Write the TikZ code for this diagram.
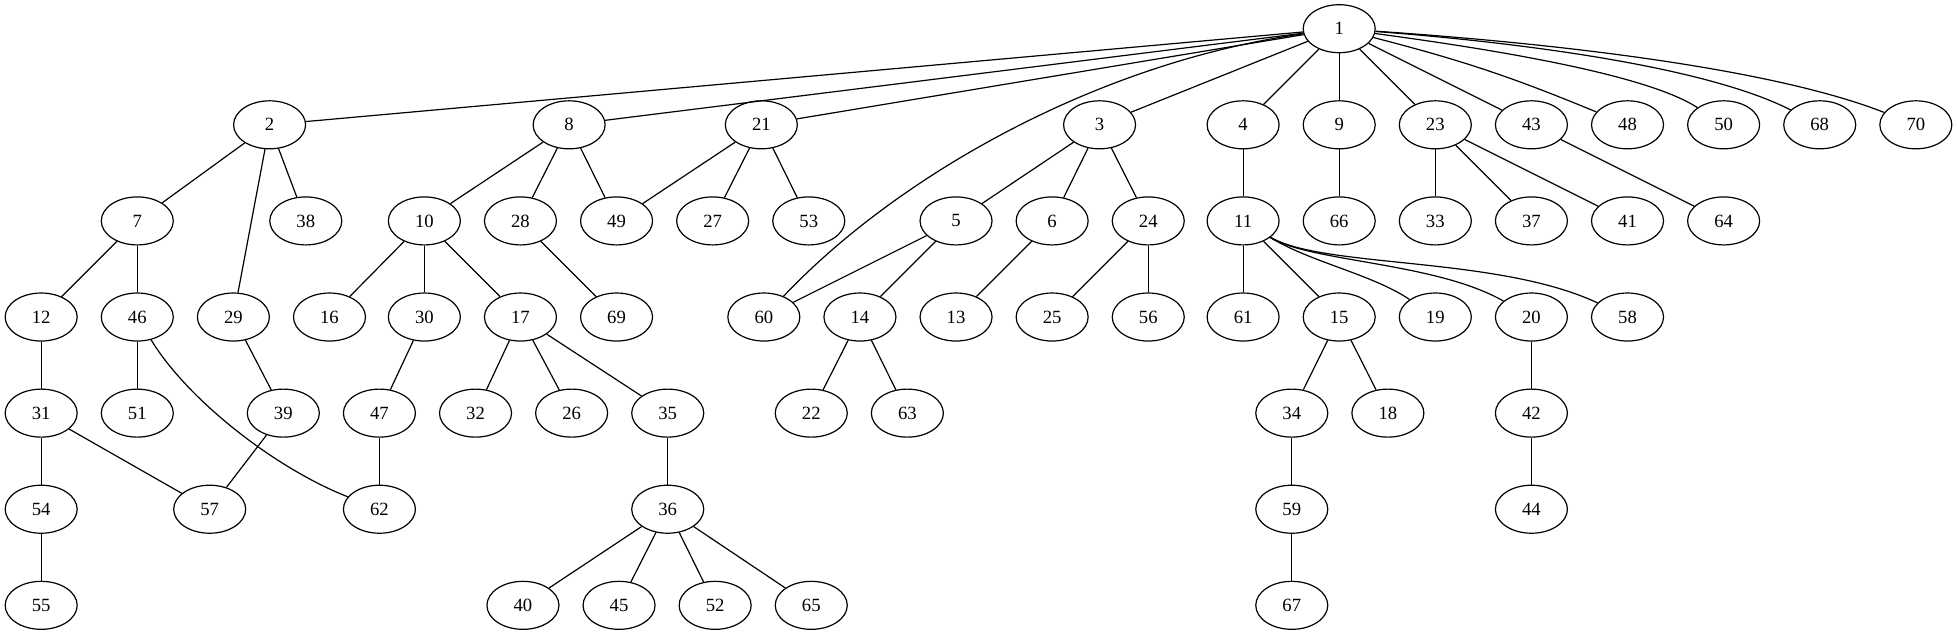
\documentclass[tikz,border=0pt]{standalone}
\usepackage{fontspec}
\setmainfont{Liberation Serif}
\usetikzlibrary{shapes.geometric}
\tikzset{
  gv/.style={ellipse, draw, line width=0.9pt, minimum width=54pt, minimum height=36pt, inner sep=0pt, font=\fontsize{14}{16}\selectfont},
  gvedge/.style={line width=0.9pt}
}
\begin{document}
\begin{tikzpicture}[x=0.936pt,y=-0.936pt]
\useasboundingbox (0,0) rectangle (1568,509);
% row 0
\node[gv] (n1) at (1073,23) {1};
% row 1
\foreach \n/\x in {2/216,8/456,21/610,3/881,4/996,9/1073,23/1150,43/1227,48/1304,50/1381,68/1458,70/1535}
  \node[gv] (n\n) at (\x,100) {\n};
% row 2
\foreach \n/\x in {7/110,38/245,10/340,28/417,49/494,27/571,53/648,5/766,6/843,24/920,11/996,66/1073,33/1150,37/1227,41/1304,64/1381}
  \node[gv] (n\n) at (\x,177) {\n};
% row 3
\foreach \n/\x in {12/33,46/110,29/187,16/264,30/340,17/417,69/494,60/612,14/689,13/766,25/843,56/920,61/996,15/1073,19/1150,20/1227,58/1304}
  \node[gv] (n\n) at (\x,254) {\n};
% row 4
\foreach \n/\x in {31/33,51/110,39/227,47/304,32/381,26/458,35/535,22/650,63/727,34/1035,18/1112,42/1227}
  \node[gv] (n\n) at (\x,331) {\n};
% row 5
\foreach \n/\x in {54/33,57/168,62/304,36/535,59/1035,44/1227}
  \node[gv] (n\n) at (\x,408) {\n};
% row 6
\foreach \n/\x in {55/33,40/419,45/496,52/573,65/650,67/1035}
  \node[gv] (n\n) at (\x,485) {\n};
% straight edges
\foreach \a/\b in {1/2,1/8,1/21,1/3,1/4,1/9,1/23,1/43,
  2/7,2/29,2/38,8/10,8/28,8/49,21/49,21/27,21/53,3/5,3/6,3/24,4/11,9/66,
  23/33,23/37,23/41,43/64,7/12,7/46,10/16,10/30,10/17,28/69,5/60,5/14,6/13,
  24/25,24/56,11/61,11/15,12/31,46/51,29/39,30/47,17/32,17/26,17/35,
  14/22,14/63,15/34,15/18,20/42,31/54,31/57,39/57,47/62,35/36,34/59,42/44,
  54/55,36/40,36/45,36/52,36/65,59/67}
  \draw[gvedge] (n\a) -- (n\b);
% curved edges
\draw[gvedge] (n1) .. controls (880,50) and (720,140) .. (n60);
\draw[gvedge] (n1) to[bend left=4] (n48);
\draw[gvedge] (n1) .. controls (1200,40) and (1320,60) .. (n50);
\draw[gvedge] (n1) .. controls (1230,35) and (1370,55) .. (n68);
\draw[gvedge] (n1) .. controls (1250,35) and (1420,55) .. (n70);
\draw[gvedge] (n11) .. controls (1050,210) and (1100,220) .. (n19);
\draw[gvedge] (n11) .. controls (1050,210) and (1150,210) .. (n20);
\draw[gvedge] (n11) .. controls (1060,215) and (1200,205) .. (n58);
\draw[gvedge] (n46) .. controls (150,320) and (220,375) .. (n62);
\end{tikzpicture}
\end{document}
